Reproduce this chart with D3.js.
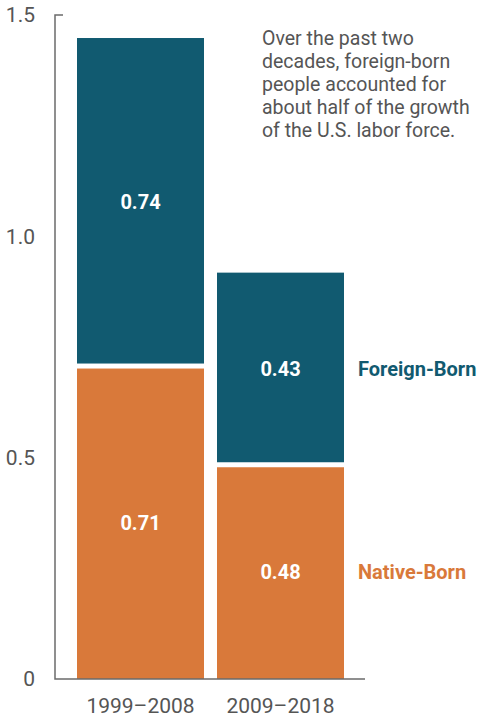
<!DOCTYPE html>
<html><head><meta charset="utf-8">
<script src="https://cdn.jsdelivr.net/npm/d3@7/dist/d3.min.js"></script>
<style>body{margin:0;background:#fff}svg{display:block}</style>
</head><body>
<script>
const periods = ["1999–2008", "2009–2018"];
const nativeBorn = [0.707, 0.484];
const foreignBorn = [0.741, 0.434];
const yTicks = [0, 0.5, 1.0, 1.5];
const yTickLabels = ["0", "0.5", "1.0", "1.5"];
const seriesNames = ["Native-Born", "Foreign-Born"];
const noteLines = ["Over the past two", "decades, foreign-born", "people accounted for", "about half of the growth", "of the U.S. labor force."];

const W = 481, H = 719;
const C = {teal: "#115a70", orange: "#d9793a", axis: "#6b6b6b", text: "#555"};
const FONT = "Roboto, 'Open Sans', sans-serif";

const svg = d3.select("body").append("svg").attr("width", W).attr("height", H);

const y = d3.scaleLinear().domain([0, 1.5]).range([679, 15]);
const x = d3.scaleBand().domain(periods).range([77, 344]).paddingInner(13 / 140).paddingOuter(0);

const data = periods.map((p, i) => ({p, n: nativeBorn[i], f: foreignBorn[i]}));
const gap = 2.5;

// bars
const g = svg.append("g");
g.selectAll("rect.nat").data(data).join("rect")
  .attr("x", d => x(d.p)).attr("width", x.bandwidth())
  .attr("y", d => y(d.n) + gap).attr("height", d => y(0) - y(d.n) - gap)
  .attr("fill", C.orange);
g.selectAll("rect.for").data(data).join("rect")
  .attr("x", d => x(d.p)).attr("width", x.bandwidth())
  .attr("y", d => y(d.n + d.f)).attr("height", d => y(d.n) - y(d.n + d.f) - gap)
  .attr("fill", C.teal);

// value labels
const lab = (sel, val, mid) => sel.selectAll(null).data(data).join("text")
  .attr("x", d => x(d.p) + x.bandwidth() / 2)
  .attr("y", d => mid(d)).attr("dy", "0.36em")
  .attr("text-anchor", "middle").attr("fill", "#fff")
  .attr("font-family", FONT).attr("font-weight", 700).attr("font-size", 20)
  .text(d => val(d).toFixed(2));
lab(g, d => d.n, d => (y(0) + y(d.n)) / 2);
lab(g, d => d.f, d => (y(d.n) + y(d.n + d.f)) / 2);

// y axis
const yAxis = svg.append("g").attr("transform", "translate(55,0)")
  .call(d3.axisLeft(y).tickValues(yTicks).tickFormat((d, i) => yTickLabels[i]).tickSize(0).tickPadding(20));
yAxis.select(".domain").remove();
yAxis.selectAll("text").attr("font-family", FONT).attr("font-size", 21).attr("fill", C.text);
svg.append("path").attr("d", `M63,${y(1.5)}H55V${y(0)}H365`)
  .attr("fill", "none").attr("stroke", C.axis).attr("stroke-width", 1.5);

// x axis labels
const xAxis = svg.append("g").attr("transform", `translate(0,${y(0)})`)
  .call(d3.axisBottom(x).tickSize(0).tickPadding(19));
xAxis.select(".domain").remove();
xAxis.selectAll("text").attr("font-family", FONT).attr("font-size", 21).attr("fill", C.text);

// legend labels at right of second bar
const last = data[data.length - 1];
svg.append("text").attr("x", 358).attr("y", (y(0) + y(last.n)) / 2).attr("dy", "0.36em")
  .attr("font-family", FONT).attr("font-weight", 700).attr("font-size", 20).attr("fill", C.orange)
  .text(seriesNames[0]);
svg.append("text").attr("x", 358).attr("y", (y(last.n) + y(last.n + last.f)) / 2).attr("dy", "0.36em")
  .attr("font-family", FONT).attr("font-weight", 700).attr("font-size", 20).attr("fill", C.teal)
  .text(seriesNames[1]);

// note
svg.append("text").attr("font-family", FONT).attr("font-size", 19.5).attr("fill", C.text)
  .selectAll("tspan").data(noteLines).join("tspan")
  .attr("x", 262).attr("y", (d, i) => 45 + i * 23).text(d => d);
</script>
</body></html>
